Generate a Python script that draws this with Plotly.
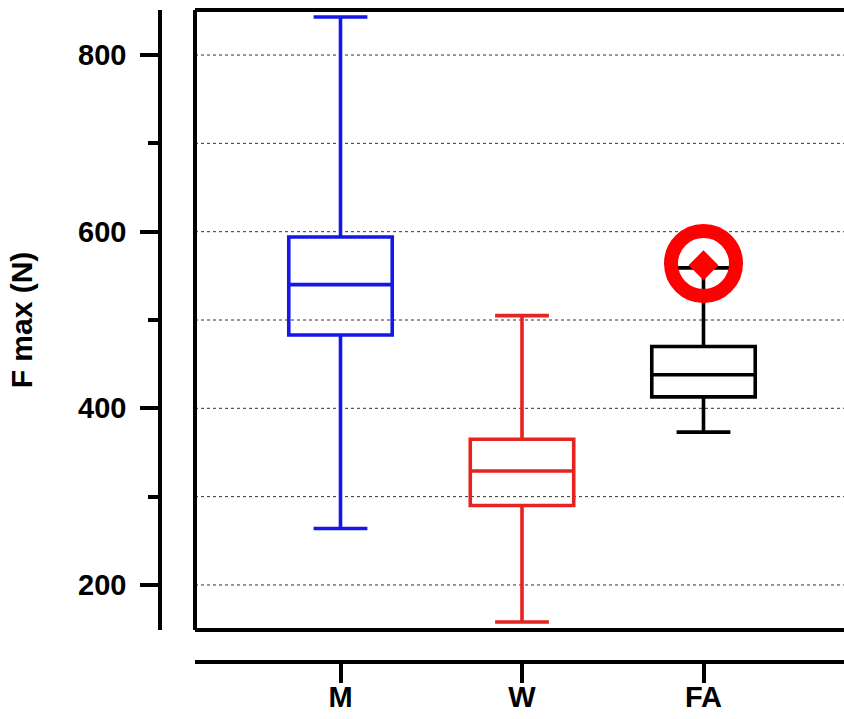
import plotly.graph_objects as go

categories = ["M", "W", "FA"]
q1_vals = [483, 290, 413]
median_vals = [540, 329, 438]
q3_vals = [594, 365, 470]
lower_whisker = [264, 158, 373]
upper_whisker = [843, 505, 559]
box_colors = ["#1616E8", "#E52421", "#000000"]
outlier_cat = ["FA"]
outlier_val = [562]
y_ticks = [200, 400, 600, 800]
grid_vals = [200, 300, 400, 500, 600, 700, 800]
y_label = "F max (N)"

FONT = dict(family="Liberation Sans, Arial, sans-serif", size=29, color="black", weight="bold")

W_FIG = 844
PLOT_W = W_FIG - 160

fig = go.Figure()
for i, cat in enumerate(categories):
    fig.add_trace(go.Box(
        x=[cat], q1=[q1_vals[i]], median=[median_vals[i]], q3=[q3_vals[i]],
        lowerfence=[lower_whisker[i]], upperfence=[upper_whisker[i]],
        boxpoints=False, fillcolor="rgba(255,255,255,0)",
        line=dict(color=box_colors[i], width=3.6),
        whiskerwidth=0.52, width=0.57, showlegend=False, hoverinfo="skip",
    ))

fig.add_trace(go.Scatter(
    x=outlier_cat, y=outlier_val, mode="markers",
    marker=dict(symbol="diamond", size=23, color="#FF0000", line=dict(width=0)),
    showlegend=False, hoverinfo="skip",
))
fig.add_trace(go.Scatter(
    x=outlier_cat, y=[v + 2 for v in outlier_val], mode="markers",
    marker=dict(symbol="circle-open", size=65, color="#FF0000",
                line=dict(width=14, color="#FF0000")),
    showlegend=False, hoverinfo="skip",
))

x_left = -(340.5 - 195) / 181.5
x_right = 2 + (W_FIG - 703.5) / 181.5

shapes = [
    dict(type="line", xref="x domain", yref="y", x0=0, x1=1.1, y0=g, y1=g,
         line=dict(color="#333333", width=1, dash="dot"), layer="below")
    for g in grid_vals
]
shapes += [
    dict(type="line", xref="x domain", yref="y domain", x0=0, x1=0, y0=0, y1=1,
         line=dict(color="black", width=4), layer="above"),
    dict(type="line", xref="x domain", yref="y domain", x0=0, x1=1.1, y0=1, y1=1,
         line=dict(color="black", width=4), layer="above"),
    dict(type="line", xref="x domain", yref="y domain", x0=0, x1=1.1, y0=0, y1=0,
         line=dict(color="black", width=4), layer="above"),
    dict(type="line", xref="x domain", yref="paper", x0=0, x1=1.1, y0=0, y1=0,
         line=dict(color="black", width=3.5), layer="above"),
]

fig.update_layout(
    width=W_FIG, height=719,
    margin=dict(l=160, r=0, t=10, b=57, autoexpand=False),
    paper_bgcolor="white", plot_bgcolor="white",
    boxmode="overlay",
    font=FONT,
    xaxis=dict(
        type="category", categoryorder="array", categoryarray=categories,
        range=[x_left, x_right], domain=[35 / PLOT_W, 1],
        anchor="free", position=0,
        showline=True, linewidth=3.5, linecolor="black",
        ticks="outside", ticklen=19, tickwidth=3.5, tickcolor="black",
        ticklabelstandoff=-11,
        showgrid=False, zeroline=False, tickfont=FONT,
    ),
    yaxis=dict(
        range=[149, 851], domain=[32 / 652, 1],
        anchor="free", position=0,
        showline=True, linewidth=3.5, linecolor="black",
        tickvals=y_ticks,
        ticks="outside", ticklen=18, tickwidth=3.5, tickcolor="black",
        ticklabelstandoff=8,
        showgrid=False,
        minor=dict(dtick=100, tick0=0, ticks="outside", ticklen=10, tickwidth=3.5,
                   tickcolor="black", showgrid=False),
        zeroline=False, tickfont=FONT,
        title=dict(text=y_label, font=dict(FONT, size=30), standoff=36),
    ),
    shapes=shapes,
)

fig.write_html(
    "out.html",
    config={"displayModeBar": False, "responsive": False},
    post_script=(
        "document.documentElement.style.overflow='hidden';"
        "document.body.style.margin='0';document.body.style.overflow='hidden';"
    ),
)
